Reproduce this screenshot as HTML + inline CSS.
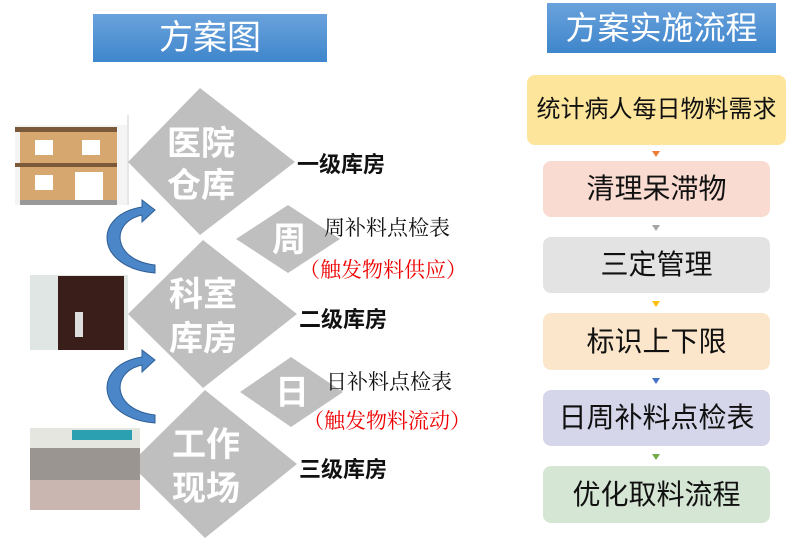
<!DOCTYPE html>
<html><head><meta charset="utf-8"><style>
body{margin:0;width:795px;height:542px;background:#fff;overflow:hidden;position:relative;font-family:"Liberation Sans","Noto Sans CJK SC",sans-serif}
.t{position:absolute;color:#fff;background:linear-gradient(#6aa2dc,#3f86cc);text-align:center}
.b{position:absolute;border-radius:8px;text-align:center;color:#111;font-size:26px;white-space:nowrap}
.a{position:absolute;left:652px;width:0;height:0;border-left:4px solid transparent;border-right:4px solid transparent}
.l{position:absolute;font-weight:bold;font-size:22px;color:#111}
.s{position:absolute;font-family:"Liberation Serif","Noto Serif CJK SC",serif;font-size:21px}
</style></head><body>
<div class="t" style="left:93px;top:14px;width:234px;height:48px;line-height:48px;font-size:34px">方案图</div>
<div class="t" style="left:547px;top:3px;width:229px;height:50px;line-height:50px;font-size:32px">方案实施流程</div>

<div class="b" style="left:527px;top:75px;width:259px;height:70px;line-height:70px;background:#fde59b;font-size:24px">统计病人每日物料需求</div>
<div class="b" style="left:543px;top:161px;width:227px;height:56px;line-height:56px;background:#f9dbd2;font-size:28px">清理呆滞物</div>
<div class="b" style="left:543px;top:237px;width:227px;height:56px;line-height:56px;background:#e3e3e3;font-size:28px">三定管理</div>
<div class="b" style="left:543px;top:313px;width:227px;height:57px;line-height:57px;background:#fce6cb;font-size:28px">标识上下限</div>
<div class="b" style="left:543px;top:390px;width:227px;height:56px;line-height:56px;background:#d5d6ea;font-size:28px">日周补料点检表</div>
<div class="b" style="left:543px;top:466px;width:227px;height:57px;line-height:57px;background:#d6e6d4;font-size:28px">优化取料流程</div>
<div class="a" style="top:151px;border-top:6px solid #ed7d31"></div>
<div class="a" style="top:225px;border-top:6px solid #a5a5a5"></div>
<div class="a" style="top:301px;border-top:6px solid #ffc000"></div>
<div class="a" style="top:378px;border-top:6px solid #4472c4"></div>
<div class="a" style="top:454px;border-top:6px solid #70ad47"></div>

<svg style="position:absolute;left:0;top:0" width="520" height="542">
<g fill="#bfbfbf">
<polygon points="200,88 295,162 200,235 128,162"/>
<polygon points="203,240 297,314 203,388 128,314"/>
<polygon points="205,390 297,464 205,538 130,464"/>
<polygon points="288,205 340,239 288,273 236,239"/>
<polygon points="291,357 343,392 291,427 240,392"/>
</g>
<line x1="128" y1="115" x2="128" y2="205" stroke="#ccc"/>
<rect x="15" y="125" width="112" height="80" fill="#f4f4f4"/>
<rect x="20" y="130" width="97" height="70" fill="#d6a870"/>
<rect x="15" y="127" width="102" height="5" fill="#7a5a3a"/>
<rect x="15" y="163" width="102" height="4" fill="#7a5a3a"/>
<rect x="20" y="200" width="97" height="5" fill="#999"/>
<rect x="35" y="140" width="18" height="15" fill="#fff"/><rect x="82" y="140" width="18" height="15" fill="#fff"/>
<rect x="35" y="175" width="18" height="15" fill="#fff"/><rect x="75" y="172" width="28" height="28" fill="#fff"/>
<rect x="30" y="275" width="98" height="75" fill="#dfe6e3"/><rect x="58" y="276" width="66" height="74" fill="#3a1e1a"/><rect x="75" y="312" width="8" height="25" fill="#ddd"/>
<rect x="30" y="428" width="110" height="82" fill="#9a9590"/><rect x="30" y="428" width="110" height="20" fill="#e6e6e0"/><rect x="72" y="430" width="60" height="10" fill="#2aa0b0"/><rect x="30" y="480" width="110" height="30" fill="#c9b6b0"/>
<g fill="#4a86c8" stroke="#2f5f96" stroke-width="1">
<path d="M155,273 C95,268 92,215 142,207 L142,200 L155,210 L142,222 L142,215 C110,222 112,260 155,265 Z"/>
<path d="M155,423 C95,418 92,365 142,357 L142,350 L155,360 L142,372 L142,365 C110,372 112,410 155,415 Z"/>
</g>
<g fill="#fff" font-weight="bold" font-size="34" text-anchor="middle" font-family="Liberation Sans,Noto Sans CJK SC,sans-serif">
<text x="201" y="155">医院</text><text x="201" y="197">仓库</text>
<text x="203" y="306">科室</text><text x="203" y="350">库房</text>
<text x="206" y="456">工作</text><text x="206" y="500">现场</text>
<text x="289" y="251">周</text><text x="292" y="404">日</text>
</g>
</svg>
<div class="l" style="left:297px;top:147px">一级库房</div>
<div class="l" style="left:299px;top:302px">二级库房</div>
<div class="l" style="left:299px;top:452px">三级库房</div>
<div class="s" style="left:324px;top:212px;color:#111">周补料点检表</div>
<div class="s" style="left:299px;top:254px;color:#e00">（触发物料供应）</div>
<div class="s" style="left:326px;top:366px;color:#111">日补料点检表</div>
<div class="s" style="left:303px;top:405px;color:#e00">（触发物料流动）</div>
</body></html>
